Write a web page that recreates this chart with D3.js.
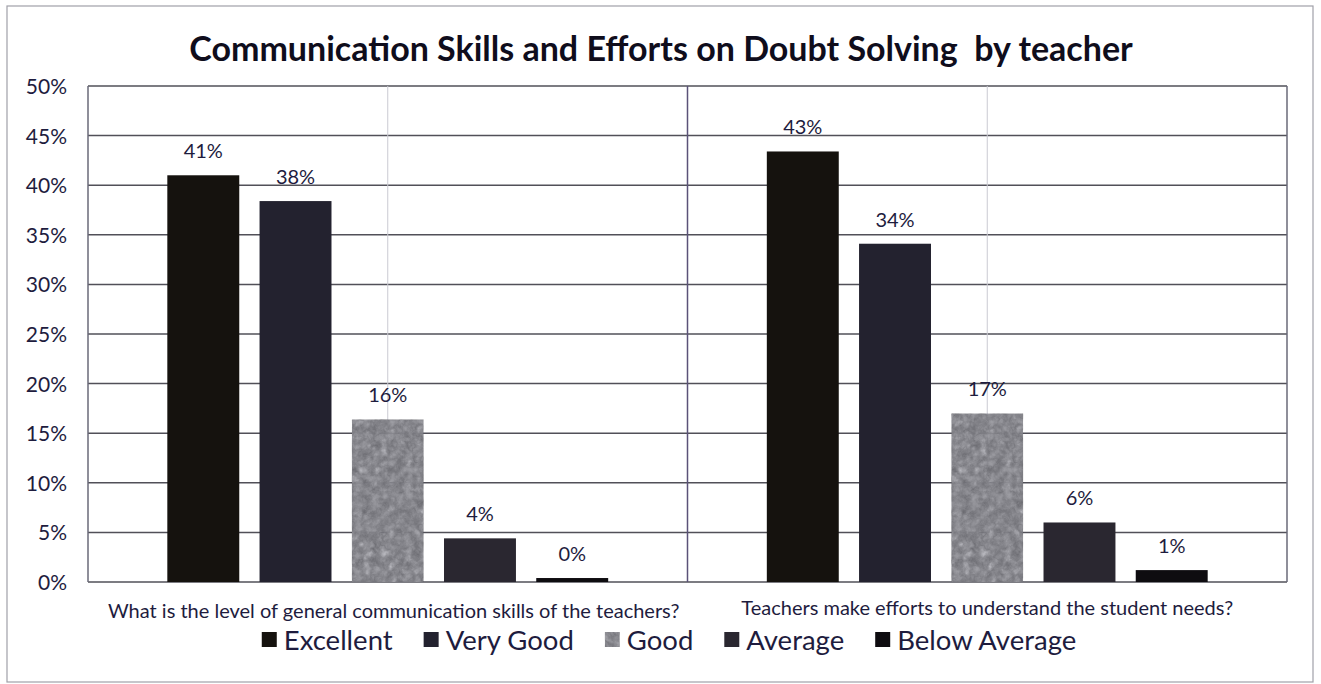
<!DOCTYPE html>
<html>
<head>
<meta charset="utf-8">
<script src="https://cdn.jsdelivr.net/npm/d3@7/dist/d3.min.js"></script>
<style>
  body { margin: 0; background: #fff; }
  svg { display: block; }
</style>
</head>
<body>
<svg width="1321" height="684"></svg>
<script>
// data
var questions = ["What is the level of general communication skills of the teachers?",
                 "Teachers make efforts to understand the student needs?"];
var ratings = ["Excellent", "Very Good", "Good", "Average", "Below Average"];
var commSkills = [0.41, 0.384, 0.164, 0.044, 0.004];
var doubtEfforts = [0.434, 0.341, 0.17, 0.06, 0.012];
var yTicks = [0, 0.05, 0.1, 0.15, 0.2, 0.25, 0.3, 0.35, 0.4, 0.45, 0.5];
var barColors = ["#15120e", "#23222f", "#a6a6ac", "#2a2730", "#0e0c10"];

var svg = d3.select("svg");
var textColor = "#1e1c3e";
var font = "Lato, 'Open Sans', sans-serif";

var plot = { left: 88, right: 1287, top: 86, bottom: 582 };

// grainy grey like the scanned "Good" bars
var defs = svg.append("defs");
var grain = defs.append("filter").attr("id", "grain")
    .attr("x", 0).attr("y", 0).attr("width", 1).attr("height", 1)
    .attr("color-interpolation-filters", "sRGB");
grain.append("feTurbulence").attr("type", "fractalNoise")
    .attr("baseFrequency", 0.12).attr("numOctaves", 4).attr("seed", 7).attr("result", "noise");
grain.append("feColorMatrix").attr("in", "noise").attr("type", "saturate").attr("values", 0).attr("result", "gnoise");
grain.append("feComposite").attr("in", "SourceGraphic").attr("in2", "gnoise")
    .attr("operator", "arithmetic").attr("k1", 0).attr("k2", 1).attr("k3", 0.6).attr("k4", -0.3).attr("result", "mix");
grain.append("feComposite").attr("in", "mix").attr("in2", "SourceAlpha").attr("operator", "in");

// outer frame
svg.append("rect")
    .attr("x", 7).attr("y", 6).attr("width", 1306).attr("height", 676)
    .attr("fill", "#fff").attr("stroke", "#a0a0a8").attr("stroke-width", 1.2);

// title
svg.append("text")
    .attr("x", 661).attr("y", 61)
    .attr("text-anchor", "middle")
    .style("white-space", "pre")
    .attr("font-family", font).attr("font-weight", "bold").attr("font-size", 34)
    .attr("fill", "#0f0d1c")
    .text("Communication Skills and Efforts on Doubt Solving  by teacher");

var y = d3.scaleLinear().domain([0, 0.5]).range([plot.bottom, plot.top]);
var x0 = d3.scaleBand().domain(questions).range([plot.left, plot.right]);
var x1 = d3.scaleBand().domain(ratings).range([0, x0.bandwidth()])
    .paddingInner(0.22).paddingOuter(0.86);

var pct = d3.format(".0%");

// horizontal gridlines
svg.append("g").selectAll("line")
    .data(yTicks)
    .enter().append("line")
    .attr("x1", plot.left).attr("x2", plot.right)
    .attr("y1", function (d) { return y(d); })
    .attr("y2", function (d) { return y(d); })
    .attr("stroke", "#515058").attr("stroke-width", 1.5);

// faint verticals at the category centres
svg.append("g").selectAll("line")
    .data(questions)
    .enter().append("line")
    .attr("x1", function (d) { return x0(d) + x0.bandwidth() / 2; })
    .attr("x2", function (d) { return x0(d) + x0.bandwidth() / 2; })
    .attr("y1", plot.top).attr("y2", plot.bottom)
    .attr("stroke", "#cacad2").attr("stroke-width", 1);

// category boundaries + plot sides
var edges = [plot.left, x0(questions[1]), plot.right];
svg.append("g").selectAll("line")
    .data(edges)
    .enter().append("line")
    .attr("x1", function (d) { return d; }).attr("x2", function (d) { return d; })
    .attr("y1", plot.top).attr("y2", plot.bottom)
    .attr("stroke", function (d, i) { return i === 1 ? "#5a5278" : "#6a6a78"; })
    .attr("stroke-width", 1.5);

// y axis labels
var yAxis = svg.append("g")
    .attr("transform", "translate(" + (plot.left - 21) + ",0)")
    .call(d3.axisLeft(y).tickValues(yTicks).tickFormat(pct).tickSize(0).tickPadding(0));
yAxis.select(".domain").remove();
yAxis.selectAll("text")
    .attr("font-family", font).attr("font-size", 21).attr("fill", textColor)
    .attr("dy", "0.36em");

// bars
var series = [commSkills, doubtEfforts];
var groups = svg.append("g").selectAll("g")
    .data(questions)
    .enter().append("g")
    .attr("transform", function (d) { return "translate(" + x0(d) + ",0)"; });

groups.selectAll("rect")
    .data(function (q, qi) {
        return ratings.map(function (r, ri) { return { rating: r, value: series[qi][ri], idx: ri }; });
    })
    .enter().append("rect")
    .attr("x", function (d) { return x1(d.rating); })
    .attr("width", x1.bandwidth())
    .attr("y", function (d) { return y(d.value); })
    .attr("height", function (d) { return y(0) - y(d.value); })
    .attr("fill", function (d) { return barColors[d.idx]; })
    .attr("filter", function (d) { return d.rating === "Good" ? "url(#grain)" : null; });

groups.selectAll("text")
    .data(function (q, qi) {
        return ratings.map(function (r, ri) { return { rating: r, value: series[qi][ri] }; });
    })
    .enter().append("text")
    .attr("x", function (d) { return x1(d.rating) + x1.bandwidth() / 2; })
    .attr("y", function (d) { return y(d.value) - 17; })
    .attr("text-anchor", "middle")
    .attr("font-family", font).attr("font-size", 20).attr("fill", textColor)
    .text(function (d) { return pct(d.value); });

// category labels
svg.append("g").selectAll("text")
    .data(questions)
    .enter().append("text")
    .attr("x", function (d, i) { return x0(d) + x0.bandwidth() / 2 + (i === 0 ? 6 : 0); })
    .attr("y", function (d, i) { return i === 0 ? 618 : 615; })
    .attr("text-anchor", "middle")
    .attr("font-family", font).attr("font-size", 20).attr("fill", textColor)
    .text(function (d) { return d; });

// legend
var legend = svg.append("g").attr("transform", "translate(0,640)");
var items = legend.selectAll("g")
    .data(ratings)
    .enter().append("g");
items.append("rect")
    .attr("width", 15).attr("height", 15).attr("y", -8)
    .attr("fill", function (d, i) { return barColors[i]; })
    .attr("filter", function (d) { return d === "Good" ? "url(#grain)" : null; });
items.append("text")
    .attr("x", 22).attr("dy", "0.36em")
    .attr("font-family", font).attr("font-size", 27.5).attr("fill", textColor)
    .text(function (d) { return d; });

var gap = 31;
var widths = [];
items.each(function () { widths.push(22 + d3.select(this).select("text").node().getComputedTextLength()); });
var total = d3.sum(widths) + gap * (widths.length - 1);
var cx = 669 - total / 2;
items.attr("transform", function (d, i) {
    var pos = cx;
    cx += widths[i] + gap;
    return "translate(" + pos + ",0)";
});
</script>
</body>
</html>
